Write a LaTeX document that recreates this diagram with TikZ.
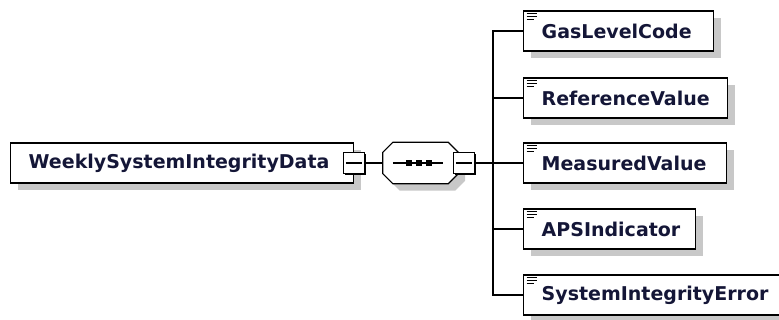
\documentclass[tikz,border=0pt]{standalone}
\usepackage{fontspec}
\setmainfont{DejaVu Sans}
\usetikzlibrary{shadows}
\definecolor{txt}{RGB}{20,22,55}
\definecolor{shd}{RGB}{200,200,200}
\newcommand\boxtxt[2]{\makebox[#1][l]{#2}}
\begin{document}
\begin{tikzpicture}[x=1pt,y=-1pt,
  elbox/.style={draw=black, line width=1.4pt, fill=white, rectangle,
    minimum height=40pt, anchor=west, inner xsep=18pt, inner ysep=0pt,
    font=\fontsize{19}{22}\selectfont\bfseries, text=txt,
    drop shadow={shadow xshift=7pt, shadow yshift=-7pt, fill=shd, opacity=1}},
  seqbox/.style={rectangle, minimum width=75pt, minimum height=41pt, inner sep=0pt},
  octo/.style={draw=black, line width=1.2pt, fill=white},
  togbox/.style={draw=black, line width=1.2pt, fill=white, rectangle,
    minimum size=21pt, inner sep=0pt,
    drop shadow={shadow xshift=1.6pt, shadow yshift=-1.6pt, fill=black, opacity=1}},
  conn/.style={draw=black, line width=1.2pt},
  icon/.style={draw=black, line width=1pt}
]
\useasboundingbox (0,0) rectangle (779,320);
\fill[white] (0,0) rectangle (779,320);

% main element
\node[elbox] (main) at (10,163) {\boxtxt{307pt}{WeeklySystemIntegrityData}};
\node[togbox] (t1) at (354,163) {};
\draw[conn] ([xshift=3pt]t1.west) -- ([xshift=-3pt]t1.east);

% sequence compositor
\node[seqbox] (seq) at (420.5,163) {};
\fill[shd] ([xshift=17pt,yshift=-7pt]seq.north west) -- ([xshift=-3pt,yshift=-7pt]seq.north east)
  -- ([xshift=7pt,yshift=-17pt]seq.north east) -- ([xshift=7pt,yshift=3pt]seq.south east)
  -- ([xshift=-3pt,yshift=-7pt]seq.south east) -- ([xshift=17pt,yshift=-7pt]seq.south west)
  -- ([xshift=7pt,yshift=3pt]seq.south west) -- ([xshift=7pt,yshift=-17pt]seq.north west) -- cycle;
\draw[octo] ([xshift=10pt]seq.north west) -- ([xshift=-10pt]seq.north east)
  -- ([yshift=-10pt]seq.north east) -- ([yshift=10pt]seq.south east)
  -- ([xshift=-10pt]seq.south east) -- ([xshift=10pt]seq.south west)
  -- ([yshift=10pt]seq.south west) -- ([yshift=-10pt]seq.north west) -- cycle;
\draw[conn] ([xshift=10pt]seq.west) -- ([xshift=-15pt]seq.east);
\foreach \dx in {409,419,429} \fill (\dx-2.6,160.4) rectangle (\dx+2.6,165.6);
\node[togbox] (t2) at (464,163) {};
\draw[conn] ([xshift=3pt]t2.west) -- ([xshift=-3pt]t2.east);

\coordinate (bus) at (493,163);

% children
\node[elbox] (c1) at (523,31) {\boxtxt{154pt}{GasLevelCode}};
\node[elbox] (c2) at (523,98) {\boxtxt{168pt}{ReferenceValue}};
\node[elbox] (c3) at (523,163) {\boxtxt{167pt}{MeasuredValue}};
\node[elbox] (c4) at (523,229) {\boxtxt{136pt}{APSIndicator}};
\node[elbox] (c5) at (523,295) {\boxtxt{234pt}{SystemIntegrityError}};

\foreach \c in {c1,c2,c3,c4,c5}{
  \draw[icon] ([xshift=3.5pt,yshift=-3.5pt]\c.north west) -- ++(10,0);
  \draw[icon] ([xshift=3.5pt,yshift=-6.2pt]\c.north west) -- ++(10,0);
  \draw[icon] ([xshift=3.5pt,yshift=-8.9pt]\c.north west) -- ++(7,0);
}

% connectors
\draw[conn] (t1.east) -- (seq.west);
\draw[conn] (t2.east) -- (bus);
\foreach \c in {c1,c2,c3,c4,c5}{
  \draw[conn] (\c.west) -| (bus);
}
\end{tikzpicture}
\end{document}
